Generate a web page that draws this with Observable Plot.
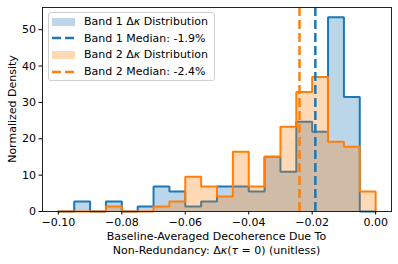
<!DOCTYPE html>
<html>
<head>
<meta charset="utf-8">
<script src="https://cdn.jsdelivr.net/npm/d3@7"></script>
<script src="https://cdn.jsdelivr.net/npm/@observablehq/plot@0.6"></script>
<style>
  html, body { margin: 0; padding: 0; background: #fff; }
  #wrap { position: relative; width: 398px; height: 264px; font-family: "DejaVu Sans", sans-serif; color: #000; }
  #wrap > svg { position: absolute; left: 0; top: 0; }
  .lbl { position: absolute; font-size: 11px; white-space: nowrap; line-height: 1; }
  #legend { position: absolute; left: 48px; top: 12px; width: 167px; height: 69px; box-sizing: border-box;
            border: 1px solid #d0d0d0; border-radius: 3px; background: rgba(255,255,255,0.8); }
  #legend .row { position: absolute; left: 0; height: 14px; display: flex; align-items: center; font-size: 11px; white-space: nowrap; }
  #legend .row svg { position: static; display: block; margin-left: 3px; margin-right: 9px; flex: none; }
</style>
</head>
<body>
<div id="wrap"></div>
<script>
// bin edges of the histogram (unitless Δκ)
const binEdges = [-0.100, -0.095, -0.090, -0.085, -0.080, -0.075, -0.070, -0.065, -0.060, -0.055,
                  -0.050, -0.045, -0.040, -0.035, -0.030, -0.025, -0.020, -0.015, -0.010, -0.005, 0.000];
// normalized density per bin, Band 1
const band1Density = [0, 2.74, 0, 2.74, 0, 1.37, 6.85, 5.48, 1.37, 2.74,
                      6.85, 6.85, 5.48, 15.07, 10.96, 24.66, 21.92, 53.42, 31.51, 0];
// normalized density per bin, Band 2
const band2Density = [0, 0, 0, 1.37, 0, 0, 1.37, 2.74, 9.59, 6.85,
                      4.11, 16.44, 6.85, 15.07, 23.29, 32.88, 36.99, 19.18, 17.81, 5.48];
// medians
const band1Median = -0.019;
const band2Median = -0.024;
const xTicks = [-0.10, -0.08, -0.06, -0.04, -0.02, 0.00];
const yTicks = [0, 10, 20, 30, 40, 50];
const xDomain = [-0.105, 0.005];
const yDomain = [0, 56.1];

const blue = "#1f77b4", orange = "#ff7f0e";

function steps(vals) {
  const pts = [{x: binEdges[0], y: 0}];
  vals.forEach((v, i) => { pts.push({x: binEdges[i], y: v}); pts.push({x: binEdges[i + 1], y: v}); });
  pts.push({x: binEdges[binEdges.length - 1], y: 0});
  return pts;
}
const s1 = steps(band1Density), s2 = steps(band2Density);

const chart = Plot.plot({
  width: 398, height: 264,
  marginLeft: 42, marginRight: 7, marginTop: 7, marginBottom: 53,
  style: {fontFamily: "DejaVu Sans, sans-serif", fontSize: "11px", color: "#000", background: "transparent"},
  x: {domain: xDomain},
  y: {domain: yDomain},
  marks: [
    Plot.area(s1, {x1: "x", y1: 0, y2: "y", fill: blue, fillOpacity: 0.3}),
    Plot.line(s1, {x: "x", y: "y", stroke: blue, strokeWidth: 2, strokeLinejoin: "miter"}),
    Plot.area(s2, {x1: "x", y1: 0, y2: "y", fill: orange, fillOpacity: 0.3}),
    Plot.line(s2, {x: "x", y: "y", stroke: orange, strokeWidth: 2, strokeLinejoin: "miter"}),
    Plot.ruleX([band1Median], {y1: yDomain[0], y2: yDomain[1], stroke: blue, strokeWidth: 2.5, strokeDasharray: "9,4"}),
    Plot.ruleX([band2Median], {y1: yDomain[0], y2: yDomain[1], stroke: orange, strokeWidth: 2.5, strokeDasharray: "9,4"}),
    Plot.frame({stroke: "#222", strokeWidth: 1}),
    Plot.axisX({ticks: xTicks, tickFormat: d3.format(".2f"), tickSize: 3.5, tickPadding: 3, label: null, fontSize: 11}),
    Plot.axisY({ticks: yTicks, tickFormat: d3.format("d"), tickSize: 3.5, tickPadding: 3, label: null, fontSize: 11})
  ]
});

const wrap = document.getElementById("wrap");
wrap.appendChild(chart);

function addLabel(html, css) {
  const d = document.createElement("div");
  d.className = "lbl";
  d.innerHTML = html;
  Object.assign(d.style, css);
  wrap.appendChild(d);
  return d;
}
addLabel("Baseline-Averaged Decoherence Due To", {left: "216.5px", top: "231px", transform: "translateX(-50%)"});
addLabel("Non-Redundancy: Δ<i>κ</i>(<i>τ</i> = 0) (unitless)", {left: "216.5px", top: "244.5px", transform: "translateX(-50%)"});
addLabel("Normalized Density", {left: "12px", top: "109px", transform: "translate(-50%,-50%) rotate(-90deg)"});

// legend
const legendItems = [
  {type: "patch", color: blue, text: "Band 1 Δ<i>κ</i> Distribution"},
  {type: "dash", color: blue, text: "Band 1 Median: -1.9%"},
  {type: "patch", color: orange, text: "Band 2 Δ<i>κ</i> Distribution"},
  {type: "dash", color: orange, text: "Band 2 Median: -2.4%"}
];
const legend = document.createElement("div");
legend.id = "legend";
legendItems.forEach((it, i) => {
  const row = document.createElement("div");
  row.className = "row";
  row.style.top = (1.5 + i * 16.7) + "px";
  const sw = it.type === "patch"
    ? `<svg width="23" height="14"><rect x="0" y="3" width="23" height="8" fill="${it.color}" fill-opacity="0.3"/></svg>`
    : `<svg width="23" height="14"><line x1="0" y1="7" x2="23" y2="7" stroke="${it.color}" stroke-width="2.5" stroke-dasharray="9,4"/></svg>`;
  row.innerHTML = sw + `<span>${it.text}</span>`;
  legend.appendChild(row);
});
wrap.appendChild(legend);
</script>
</body>
</html>
